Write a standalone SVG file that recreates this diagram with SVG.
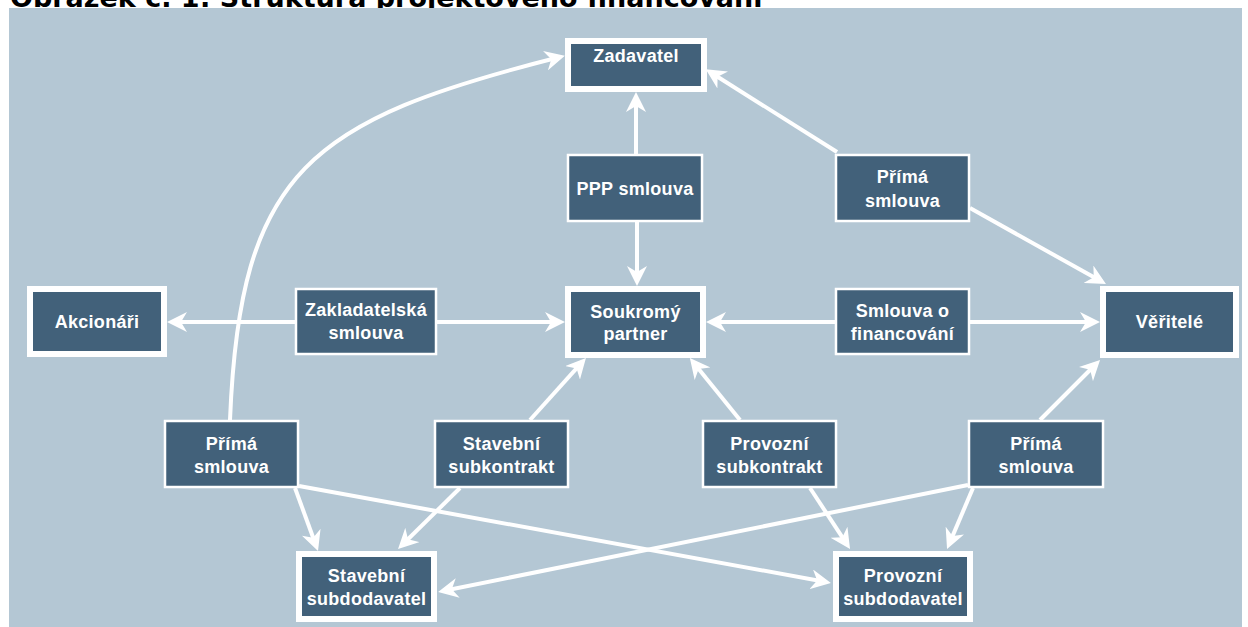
<svg xmlns="http://www.w3.org/2000/svg" width="1248" height="627" viewBox="0 0 1248 627">
<style>
.title{font-family:"DejaVu Sans","Liberation Sans",sans-serif;font-weight:bold;font-size:27px;fill:#000}
.major{fill:#42617A;stroke:#fff;stroke-width:6}
.minor{fill:#42617A;stroke:#fff;stroke-width:2.5}
.lbl{font-family:"Liberation Sans",Arial,sans-serif;font-weight:bold;font-size:18px;letter-spacing:0.3px;fill:#fff;text-anchor:middle}
.conn{fill:none;stroke:#fff;stroke-width:4;marker-end:url(#arr)}
</style>
<defs>
<marker id="arr" markerUnits="userSpaceOnUse" markerWidth="20" markerHeight="20" viewBox="0 0 20 20" refX="15" refY="10" orient="auto">
<path d="M0,0 L20,10 L0,20 L6,10 Z" fill="#fff"/>
</marker>
</defs>
<rect width="1248" height="627" fill="#fff"/>
<text class="title" x="10" y="7">Obrázek č. 1: Struktura projektového financování</text>
<rect x="9" y="8" width="1233" height="619" fill="#B4C7D4"/>
<g id="connectors">
<path class="conn" d="M636,154 L636,97"/>
<path class="conn" d="M637,222 L637,281"/>
<path class="conn" d="M837,152 L710,72"/>
<path class="conn" d="M970,208 L1101.6,281.6"/>
<path class="conn" d="M295,322 L172,322"/>
<path class="conn" d="M437,322 L560,322"/>
<path class="conn" d="M835,322 L711,322"/>
<path class="conn" d="M970,322 L1095,322"/>
<path class="conn" d="M230,420 C240,170 310,120 560,57"/>
<path class="conn" d="M295,488 L316.3,546.3"/>
<path class="conn" d="M299,486 L826,582"/>
<path class="conn" d="M530,420 L582.6,361.7"/>
<path class="conn" d="M460,488 L401.6,545.5"/>
<path class="conn" d="M740,420 L693,362"/>
<path class="conn" d="M810,488 L847.3,544.8"/>
<path class="conn" d="M973,488 L949,544.4"/>
<path class="conn" d="M968,485 L443,591"/>
<path class="conn" d="M1040,420 L1096.5,363.5"/>
</g>
<g id="zadavatel"><rect class="major" x="568" y="41" width="136" height="48"/><text class="lbl" x="636" y="62">Zadavatel</text></g>
<g id="soukromy-partner"><rect class="major" x="568" y="289" width="135" height="66"/><text class="lbl" x="635.5" y="318">Soukromý</text><text class="lbl" x="635.5" y="340">partner</text></g>
<g id="akcionari"><rect class="major" x="30" y="289" width="134" height="65"/><text class="lbl" x="97" y="328">Akcionáři</text></g>
<g id="veritele"><rect class="major" x="1103" y="289" width="133" height="66"/><text class="lbl" x="1169.5" y="328">Věřitelé</text></g>
<g id="stavebni-subdodavatel"><rect class="major" x="299" y="554" width="135" height="65"/><text class="lbl" x="366.5" y="582">Stavební</text><text class="lbl" x="366.5" y="605">subdodavatel</text></g>
<g id="provozni-subdodavatel"><rect class="major" x="836" y="554" width="134" height="65"/><text class="lbl" x="903" y="582">Provozní</text><text class="lbl" x="903" y="605">subdodavatel</text></g>
<g id="ppp-smlouva"><rect class="minor" x="568" y="155" width="134" height="66"/><text class="lbl" x="635" y="195">PPP smlouva</text></g>
<g id="prima-smlouva-zadavatel"><rect class="minor" x="836" y="155" width="133" height="66"/><text class="lbl" x="902.5" y="183">Přímá</text><text class="lbl" x="902.5" y="207">smlouva</text></g>
<g id="smlouva-o-financovani"><rect class="minor" x="836" y="289" width="133" height="65"/><text class="lbl" x="902.5" y="317">Smlouva o</text><text class="lbl" x="902.5" y="340">financování</text></g>
<g id="zakladatelska-smlouva"><rect class="minor" x="296" y="289" width="140" height="65"/><text class="lbl" x="366" y="316">Zakladatelská</text><text class="lbl" x="366" y="339">smlouva</text></g>
<g id="prima-smlouva-stavebni"><rect class="minor" x="165" y="421" width="133" height="66"/><text class="lbl" x="231.5" y="450">Přímá</text><text class="lbl" x="231.5" y="473">smlouva</text></g>
<g id="stavebni-subkontrakt"><rect class="minor" x="435" y="421" width="133" height="66"/><text class="lbl" x="501.5" y="450">Stavební</text><text class="lbl" x="501.5" y="473">subkontrakt</text></g>
<g id="provozni-subkontrakt"><rect class="minor" x="703" y="421" width="133" height="66"/><text class="lbl" x="769.5" y="450">Provozní</text><text class="lbl" x="769.5" y="473">subkontrakt</text></g>
<g id="prima-smlouva-veritele"><rect class="minor" x="969" y="421" width="134" height="66"/><text class="lbl" x="1036" y="450">Přímá</text><text class="lbl" x="1036" y="473">smlouva</text></g>
</svg>
